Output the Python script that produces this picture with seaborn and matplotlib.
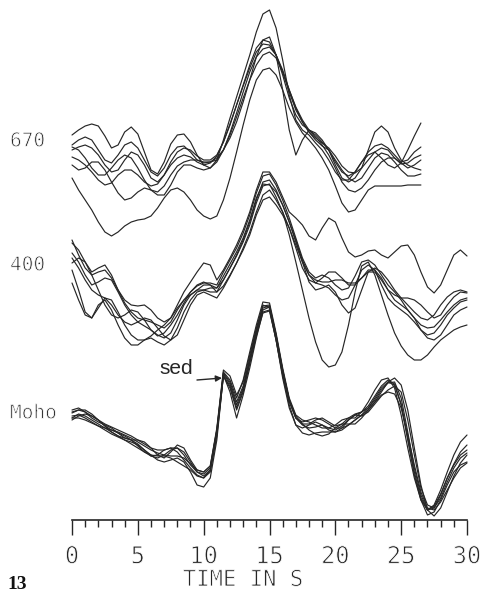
import numpy as np
import pandas as pd
import matplotlib
matplotlib.use("Agg")
import matplotlib.pyplot as plt
import seaborn as sns
from matplotlib import patheffects as pe

sns.set_theme(style="white")
plt.rcParams["font.family"] = ["DejaVu Sans"]

# ---------------- data (amplitudes) ----------------
group_labels = ["670", "400", "Moho"]
tick_values = [0, 5, 10, 15, 20, 25, 30]
xlabel_text = "TIME IN S"

time_670 = np.arange(54) * 0.5      # 0 .. 26.5 s
time_full = np.arange(61) * 0.5     # 0 .. 30 s

a670_1 = [65,70,74,76,74,64,52,55,68,73, 66,48,30,26,38,56,65,66,58,45, 35,32,40,60,82,103,124,145,168,186, 190,172,140,105,80,70,65,57,50,40, 28,20,20,28,38,45,48,42,35,32, 37,50,64,77]
a670_2 = [22,10,0,-10,-22,-32,-36,-32,-26,-22, -20,-19,-16,-8,2,10,12,8,0,-10, -16,-19,-16,0,22,48,75,100,120,130, 132,125,110,92,78,67,60,52,42,30, 14,-3,-12,-10,0,10,14,14,14,14, 14,15,15,15]
a670_3 = [55,60,63,60,50,40,37,45,55,58, 52,40,28,24,32,45,53,54,48,40, 37,38,42,50,62,78,98,120,143,160, 163,145,110,70,45,60,70,67,60,50, 35,22,18,22,32,50,68,74,68,52, 40,35,32,30]
a670_4 = [50,53,55,52,45,35,28,30,40,48, 45,35,22,18,25,38,48,52,50,44, 40,40,45,58,75,95,115,135,152,160, 158,145,125,102,85,75,70,65,58,50, 38,28,24,28,38,48,54,56,52,45, 38,40,48,53]
a670_5 = [43,40,35,28,20,15,17,25,30,30, 25,18,14,16,25,35,42,45,43,38, 35,37,44,58,76,95,114,132,148,156, 155,145,128,108,90,78,68,60,54,50, 40,30,22,18,22,32,42,47,45,38, 30,24,24,26]
a670_6 = [53,50,42,32,25,25,32,40,45,42, 32,20,10,8,14,25,34,38,40,40, 38,38,40,50,67,87,108,128,143,151, 153,145,130,110,92,78,68,62,57,52, 44,34,28,27,32,40,48,52,50,42, 36,37,42,45]
a670_7 = [35,30,32,38,38,30,18,7,0,2, 8,12,10,5,5,15,28,35,35,32, 30,32,38,50,65,83,102,120,135,145, 148,142,128,110,93,80,70,63,55,45, 32,18,10,8,12,20,30,38,42,42, 37,32,35,40]

a400_1 = [60,45,32,25,28,30,22,10,0,-5, -6,-5,-10,-18,-22,-18,-5,8,18,28, 37,35,20,30,42,55,70,88,110,128, 128,118,103,88,82,75,64,60,72,82, 78,62,48,43,45,49,50,45,42,48, 54,55,45,28,13,7,15,30,45,50, 44]
a400_2 = [17,0,-15,-18,-8,2,0,-12,-25,-35, -40,-40,-36,-30,-25,-18,-8,0,5,10, 15,15,12,20,32,44,58,75,97,114, 116,103,88,65,38,10,-18,-42,-60,-67, -65,-52,-25,8,34,38,25,5,-15,-33, -46,-55,-60,-60,-55,-47,-40,-35,-30,-27, -25]
a400_3 = [57,50,38,28,32,35,25,10,-3,-12, -18,-20,-22,-25,-28,-22,-10,0,8,14, 17,17,15,28,40,52,67,85,107,124, 126,115,100,82,62,42,28,22,25,22, 15,10,12,24,38,40,35,25,15,8, 0,-10,-18,-25,-28,-27,-20,-12,-5,0, 2]
a400_4 = [47,38,25,15,18,22,20,8,-5,-15, -22,-26,-30,-35,-38,-33,-20,-5,5,10, 10,8,8,20,32,45,60,78,100,118, 120,110,95,78,60,38,18,10,12,15, 8,-5,-13,-8,10,28,32,28,20,10, 2,-5,-12,-18,-20,-15,-5,3,8,10, 8]
a400_5 = [42,32,20,10,5,2,-5,-15,-22,-25, -22,-18,-20,-28,-36,-40,-35,-20,-5,5, 8,5,2,12,24,37,52,68,88,105, 110,100,88,72,52,32,20,17,22,28, 28,22,15,15,22,30,30,22,10,0, -5,-10,-18,-30,-38,-40,-35,-25,-15,-10, -7]
a400_6 = [30,10,-12,-18,-5,0,-10,-25,-38,-45, -45,-40,-38,-42,-45,-40,-28,-12,0,8, 10,12,12,24,36,48,62,80,102,116, 115,108,95,78,58,40,25,17,15,12, 5,0,2,15,30,35,30,15,2,-5, -10,-15,-22,-30,-35,-33,-25,-15,-8,-2, 0]
a400_7 = [37,42,38,25,10,-5,-15,-18,-15,-10, -12,-20,-30,-36,-33,-25,-15,-3,8,15, 18,15,8,14,25,37,50,65,85,100, 103,95,85,72,55,38,25,20,18,18, 20,20,17,17,22,28,28,20,10,5, 2,2,0,-5,-12,-18,-15,-5,3,8, 7]

moho_1 = [82,86,84,80,76,72,68,64,60,58, 55,50,45,40,38,40,42,38,28,15, 13,22,60,125,108,82,105,132,162,188, 190,160,125,95,75,67,65,67,68,68, 68,70,75,80,85,92,102,112,118,115, 95,60,25,0,-15,-12,0,15,28,35, 38]
moho_2 = [88,90,88,84,80,76,73,70,67,64, 60,56,52,50,50,52,52,45,35,28, 26,32,70,128,120,102,120,148,175,198, 197,167,132,102,85,80,78,75,72,72, 75,80,82,82,88,98,110,120,122,112, 85,52,22,0,-10,-5,10,28,45,58, 65]
moho_3 = [80,84,86,84,80,74,68,64,62,60, 56,50,44,42,45,50,52,48,38,28, 24,30,68,126,116,95,112,140,168,192, 194,164,128,100,82,75,72,73,75,72, 70,74,80,85,88,92,100,110,117,118, 102,68,32,5,-10,-8,5,22,35,45, 50]
moho_4 = [90,92,88,82,78,75,72,67,62,60, 60,58,52,45,42,48,55,52,40,30, 28,34,72,130,124,105,118,145,172,195, 192,160,122,92,75,72,75,78,75,70, 68,72,80,85,84,88,96,104,110,114, 108,80,45,12,-5,-8,2,18,32,42, 47]
moho_5 = [84,85,82,78,74,70,66,63,60,56, 52,48,45,44,44,42,38,34,30,24, 22,30,66,124,112,90,108,136,164,187, 189,160,125,98,82,78,80,82,80,76, 72,72,75,80,85,90,98,105,108,106, 92,65,35,8,-8,-10,-2,10,22,32, 37]
moho_6 = [87,90,90,86,80,74,70,67,64,60, 54,48,44,45,50,52,48,40,32,25, 22,28,64,124,114,92,110,138,166,190, 193,165,130,100,84,76,70,66,64,66, 72,76,76,76,82,90,98,108,118,122, 115,90,52,15,-10,-16,-8,8,24,37, 45]
moho_7 = [82,82,80,77,74,72,70,68,65,62, 58,54,50,47,45,44,44,42,36,30, 28,34,70,127,118,98,114,142,170,194, 195,165,130,100,82,76,76,80,82,78, 74,76,82,86,88,94,104,114,120,116, 96,62,28,2,-10,-6,6,22,36,48, 55]

traces_670 = [a670_1, a670_2, a670_3, a670_4, a670_5, a670_6, a670_7]
traces_400 = [a400_1, a400_2, a400_3, a400_4, a400_5, a400_6, a400_7]
traces_moho = [moho_1, moho_2, moho_3, moho_4, moho_5, moho_6, moho_7]

# vertical offsets separating the three record sections
offsets = [320, 220, 20]
label_heights = [379, 255, 107]

rows = []
for gname, t, traces, off in zip(group_labels,
                                 [time_670, time_full, time_full],
                                 [traces_670, traces_400, traces_moho],
                                 offsets):
    for i, tr in enumerate(traces):
        for tt, a in zip(t, tr):
            rows.append((gname, f"{gname}-{i}", tt, off + a))
df = pd.DataFrame(rows, columns=["group", "trace", "t", "y"])

# ---------------- figure ----------------
W, H = 481, 592
fig = plt.figure(figsize=(W / 100, H / 100), dpi=100)
fig.patch.set_facecolor("white")
ax = fig.add_axes([72 / W, 72 / H, 395 / W, 520 / H])
ax.set_facecolor("white")

ink = "#262626"
sns.lineplot(data=df, x="t", y="y", units="trace", estimator=None,
             color=ink, linewidth=0.85, ax=ax, legend=False, sort=False)
for ln in ax.lines:
    ln.set_clip_on(False)

ax.set_xlim(0, 30)
ax.set_ylim(0, 520)
for s in ["top", "left", "right"]:
    ax.spines[s].set_visible(False)
ax.spines["bottom"].set_linewidth(1.2)
ax.spines["bottom"].set_color(ink)
ax.set_yticks([])
ax.set_xticks(tick_values)
ax.set_xticks(range(0, 31), minor=True)
ax.set_xticklabels([str(v) for v in tick_values])
ax.tick_params(axis="x", which="major", direction="out", length=10.5,
               width=1.0, color=ink, pad=7, labelsize=17, labelcolor=ink,
               bottom=True)
ax.tick_params(axis="x", which="minor", direction="out", length=5,
               width=1.0, color=ink, bottom=True)
ax.set_xlabel("")
ax.set_ylabel("")

thin = [pe.Stroke(linewidth=0.6, foreground="white")]
for lbl in ax.get_xticklabels():
    lbl.set_family("DejaVu Sans Mono")
    lbl.set_path_effects(thin)

for name, yy in zip(group_labels, label_heights):
    ax.text(-62 / 13.17, yy, name, family="DejaVu Sans Mono", fontsize=14,
            color=ink, ha="left", va="center", clip_on=False,
            path_effects=thin)

fig.text(243 / W, 1 - 580 / H, xlabel_text, family="DejaVu Sans Mono",
         fontsize=16, color=ink, ha="center", va="center", path_effects=thin)

fig.text(7 / W, 3 / H, "13", family="Liberation Serif", fontweight="bold",
         fontsize=14, color="#111111", ha="left", va="baseline")

ax.text((176 - 72) / 13.17, 520 - 368, "sed", family="Liberation Sans",
        fontsize=15, color=ink, ha="center", va="center")
ax.annotate("", xy=((222 - 72) / 13.17, 520 - 378),
            xytext=((197 - 72) / 13.17, 520 - 380),
            arrowprops=dict(arrowstyle="-|>", color=ink, lw=1.0,
                            mutation_scale=9, shrinkA=0, shrinkB=0))

fig.savefig("out.png", dpi=100, facecolor="white")
